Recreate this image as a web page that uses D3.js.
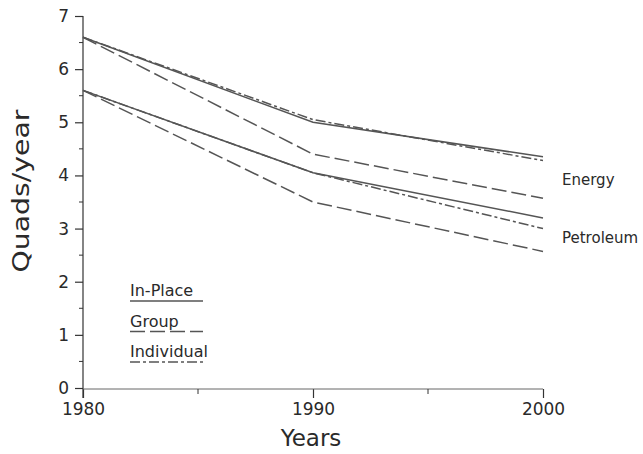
<!DOCTYPE html>
<html>
<head>
<meta charset="utf-8">
<script src="https://cdn.jsdelivr.net/npm/d3@7"></script>
<style>
  body { margin: 0; background: #fff; }
  svg text { font-family: "DejaVu Sans", sans-serif; fill: #2a2a2a; }
</style>
</head>
<body>
<svg width="643" height="454"></svg>
<script>
// data
const years = [1980, 1990, 2000];
const energyInPlace = [6.6, 5.0, 4.35];
const energyIndividual = [6.6, 5.05, 4.28];
const energyGroup = [6.6, 4.4, 3.57];
const petrolInPlace = [5.6, 4.05, 3.2];
const petrolIndividual = [5.6, 4.05, 3.0];
const petrolGroup = [5.6, 3.5, 2.57];
const yTicks = [0, 1, 2, 3, 4, 5, 6, 7];
const legendNames = ["In-Place", "Group", "Individual"];

const dashFor = {
  "In-Place": null,
  "Group": "15,5",
  "Individual": "10,3,3,3"
};

const series = [
  { name: "In-Place", values: energyInPlace },
  { name: "Individual", values: energyIndividual },
  { name: "Group", values: energyGroup },
  { name: "In-Place", values: petrolInPlace },
  { name: "Individual", values: petrolIndividual },
  { name: "Group", values: petrolGroup }
];

const svg = d3.select("svg");
const x = d3.scaleLinear().domain([1980, 2000]).range([83, 543]);
const y = d3.scaleLinear().domain([0, 7]).range([388, 16]);

// y axis
const yAxis = svg.append("g").attr("transform", "translate(83,0)")
  .call(d3.axisLeft(y).tickValues(yTicks).tickFormat(d3.format("d")).tickSize(8).tickPadding(6));
yAxis.select(".domain").remove();
yAxis.selectAll(".tick line").attr("stroke", "#333").attr("stroke-width", 1.2);
yAxis.selectAll("text").style("font-size", "17px").attr("fill", "#2a2a2a");
svg.append("line").attr("x1", 83).attr("x2", 83).attr("y1", y(7)).attr("y2", 398)
  .attr("stroke", "#333").attr("stroke-width", 1.2);
// half ticks
svg.append("g").selectAll("line")
  .data(d3.range(0.5, 7, 1))
  .enter().append("line")
  .attr("x1", 79).attr("x2", 83)
  .attr("y1", d => y(d)).attr("y2", d => y(d))
  .attr("stroke", "#333").attr("stroke-width", 1);

// x axis
const xAxis = svg.append("g").attr("transform", "translate(0,389)")
  .call(d3.axisBottom(x).tickValues(years).tickFormat(d3.format("d")).tickSize(9).tickPadding(5));
xAxis.select(".domain").remove();
xAxis.selectAll(".tick line").attr("stroke", "#333").attr("stroke-width", 1.2);
xAxis.selectAll("text").style("font-size", "17px").attr("fill", "#2a2a2a");
svg.append("line").attr("x1", 83).attr("x2", 543).attr("y1", 389).attr("y2", 389)
  .attr("stroke", "#666").attr("stroke-width", 1);
svg.append("g").selectAll("line")
  .data([1985, 1995])
  .enter().append("line")
  .attr("x1", d => x(d)).attr("x2", d => x(d))
  .attr("y1", 389).attr("y2", 394)
  .attr("stroke", "#333").attr("stroke-width", 1);

// lines
const line = d3.line()
  .x((d, i) => x(years[i]))
  .y(d => y(d));

svg.append("g").selectAll("path")
  .data(series)
  .enter().append("path")
  .attr("d", d => line(d.values))
  .attr("fill", "none")
  .attr("stroke", "#555")
  .attr("stroke-width", 1.5)
  .attr("stroke-dasharray", d => dashFor[d.name]);

// series labels
svg.append("text").attr("x", 562).attr("y", 185).text("Energy").style("font-size", "15px");
svg.append("text").attr("x", 562).attr("y", 243).text("Petroleum").style("font-size", "15px");

// legend
const legend = svg.append("g").selectAll("g")
  .data(legendNames)
  .enter().append("g")
  .attr("transform", (d, i) => `translate(130,${296 + i * 30.5})`);
legend.append("text").text(d => d).style("font-size", "16px");
legend.append("line")
  .attr("x1", 0).attr("x2", 73).attr("y1", 5).attr("y2", 5)
  .attr("stroke", "#555").attr("stroke-width", 1.5)
  .attr("stroke-dasharray", d => dashFor[d]);

// axis titles
svg.append("text").attr("x", 311).attr("y", 446).attr("text-anchor", "middle")
  .text("Years").style("font-size", "23px");
svg.append("text").attr("transform", "translate(29,191) rotate(-90)").attr("text-anchor", "middle")
  .attr("textLength", 163).attr("lengthAdjust", "spacingAndGlyphs")
  .text("Quads/year").style("font-size", "23px");
</script>
</body>
</html>
